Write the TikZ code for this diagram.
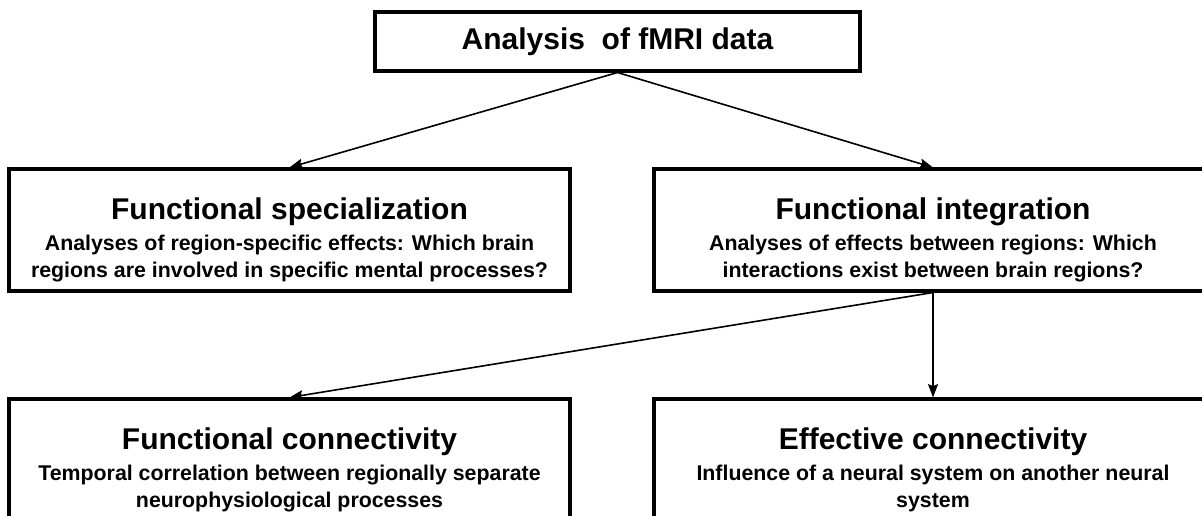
\documentclass[tikz,border=0pt]{standalone}
\usepackage{fontspec}
\setmainfont{Liberation Sans}
\usetikzlibrary{arrows.meta}
\newcommand{\boxtitle}[1]{{\fontsize{22.5}{27}\selectfont\rule{0pt}{31pt}#1}}
\begin{document}
\begin{tikzpicture}[%
                x=0.75pt, y=-0.75pt,
                mybox/.style={draw, line width=2.3pt, align=center, font=\bfseries\fontsize{16}{20}\selectfont, inner sep=0pt},
                lowbox/.style={mybox, minimum height=91.5pt},
                myarrow/.style={-{Stealth[length=10pt,width=7.5pt,inset=1.5pt]}, line width=1.2pt}
        ]
            \useasboundingbox (0,0) rectangle (1202,516);
            \node [mybox, minimum width=363.75pt, minimum height=44.25pt] (fmri) at (617.5,41.5) {\fontsize{22.5}{27}\selectfont Analysis\ \ of fMRI data};
            % second row
            \node [lowbox, minimum width=420.75pt] (spec) at (289.5,230)
                {\boxtitle{Functional specialization}\\[3pt] Analyses of region-specific effects: Which brain\\ regions are involved in specific mental processes?};
            \node [lowbox, minimum width=418.5pt] (integ) at (933,230)
                {\boxtitle{Functional integration}\\[3pt] Analyses of effects between regions: Which\\ interactions exist between brain regions?};
            % third row, cut off at the bottom
            \node [lowbox, minimum width=420.75pt] (funcon) at (289.5,460)
                {\boxtitle{Functional connectivity}\\[3pt] Temporal correlation between regionally separate\\ neurophysiological processes};
            \node [lowbox, minimum width=418.5pt] (effcon) at (933,460)
                {\boxtitle{Effective connectivity}\\[3pt] Influence of a neural system on another neural\\ system};
            \draw [myarrow] (fmri.south) -- (spec.north);
            \draw [myarrow] (fmri.south) -- (integ.north);
            \draw [myarrow] (integ.south) -- (funcon.north);
            \draw [myarrow] (integ.south) -- (effcon.north);
        \end{tikzpicture}
\end{document}
